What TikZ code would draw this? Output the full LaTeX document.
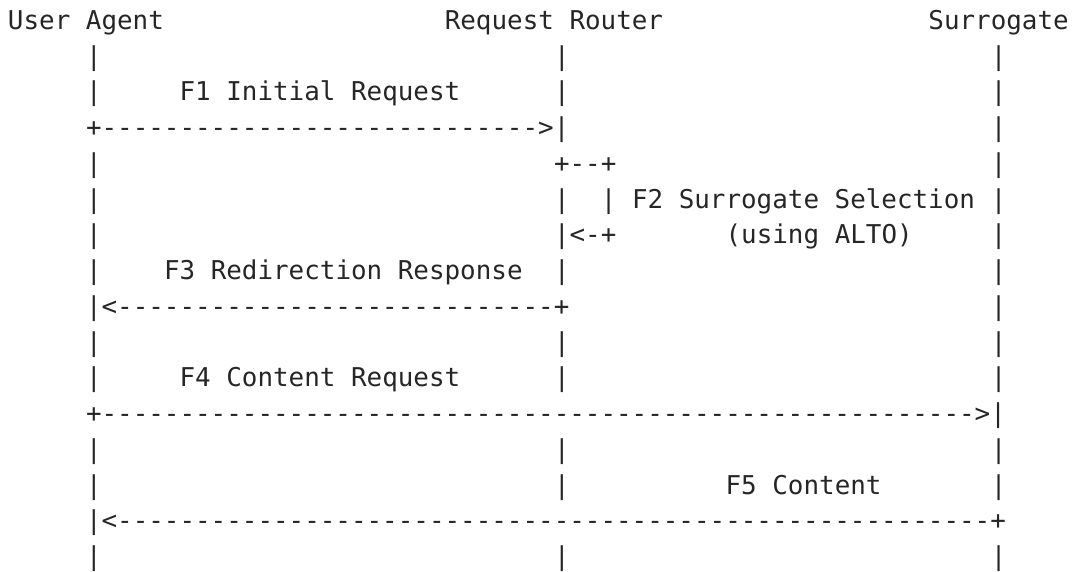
\documentclass[tikz,border=0pt]{standalone}
\usepackage{fontspec}
\setmonofont{DejaVu Sans Mono}
\ExplSyntaxOn
\cs_new:Npn \dashrun #1 { \prg_replicate:nn {#1} {-} }
\ExplSyntaxOff
\definecolor{ink}{HTML}{262626}
\begin{document}
\begin{tikzpicture}[
  ch/.style={anchor=base west, inner sep=0pt, outer sep=0pt, text=ink,
             font=\ttfamily\fontsize{25.9pt}{35.75pt}\selectfont},
]
\useasboundingbox (0pt,0pt) rectangle (1074pt,-572pt);
% character grid: one unit = one column / one text row
\begin{scope}[shift={(8pt,-29.4pt)}, x=15.6pt, y=-35.75pt]
  % participants
  \node[ch] (ua) at (0,0)  {User Agent};
  \node[ch] (rr) at (28,0) {Request Router};
  \node[ch] (sg) at (59,0) {Surrogate};

  % lifelines
  \foreach \r in {1,2,4,5,6,7,9,10,12,13,15}
    \node[ch] (ua-\r) at (5,\r) {|};
  \foreach \r in {1,2,5,7,9,10,12,13,15}
    \node[ch] (rr-\r) at (35,\r) {|};
  \foreach \r in {1,2,3,4,5,6,7,8,9,10,12,13,15}
    \node[ch] (sg-\r) at (63,\r) {|};

  % F1
  \node[ch] (f1) at (11,2) {F1 Initial Request};
  \node[ch] (f1a) at (5,3) {+\dashrun{28}>|};

  % F2
  \node[ch] (f2top) at (35,4) {+--+};
  \node[ch] (f2side) at (38,5) {|};
  \node[ch] (f2) at (40,5) {F2 Surrogate Selection};
  \node[ch] (f2bot) at (35,6) {|<-+};
  \node[ch] (f2b) at (46,6) {(using ALTO)};

  % F3
  \node[ch] (f3) at (10,7) {F3 Redirection Response};
  \node[ch] (f3a) at (5,8) {|<\dashrun{28}+};

  % F4
  \node[ch] (f4) at (11,10) {F4 Content Request};
  \node[ch] (f4a) at (5,11) {+\dashrun{56}>|};

  % F5
  \node[ch] (f5) at (46,13) {F5 Content};
  \node[ch] (f5a) at (5,14) {|<\dashrun{56}+};
\end{scope}
\end{tikzpicture}
\end{document}
